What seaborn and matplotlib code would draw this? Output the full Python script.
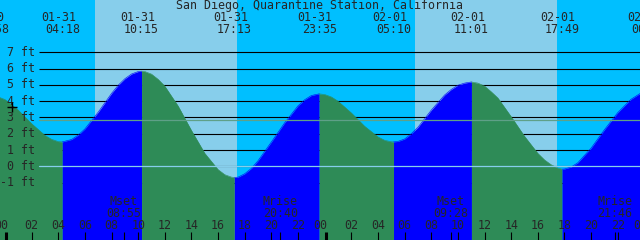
import numpy as np
import pandas as pd
import matplotlib
matplotlib.use("Agg")
import matplotlib.pyplot as plt
import seaborn as sns

# ---------------- data ----------------
title = "San Diego, Quarantine Station, California"

# tide heights (ft); hours counted from 01-31 00:00
hour_t = [-0.375, 0, 1, 2, 3, 3.5, 4, 5, 5.5, 6, 7, 8, 8.5, 9, 9.5, 10, 10.5, 11,
          11.5, 12, 13, 14, 15, 16, 16.5, 17, 17.5, 18, 18.5, 19, 20, 21, 22,
          22.5, 23, 24, 24.5, 25, 26, 27, 28, 28.5, 29, 29.5, 30, 30.5, 31, 32,
          33, 33.5, 34, 34.5, 35, 35.5, 36, 36.5, 37, 38, 39, 40, 40.5, 41,
          41.5, 42, 42.5, 43, 44, 45, 46, 47, 47.67]
hour_h = [4.22, 4.10, 3.45, 2.62, 1.90, 1.66, 1.52, 1.65, 1.92, 2.30, 3.33, 4.48,
          4.98, 5.38, 5.67, 5.82, 5.82, 5.66, 5.34, 4.92, 3.70, 2.20, 0.80,
          -0.20, -0.51, -0.66, -0.66, -0.45, -0.12, 0.35, 1.50, 2.68, 3.72,
          4.09, 4.35, 4.41, 4.26, 4.00, 3.28, 2.46, 1.81, 1.60, 1.51, 1.53,
          1.68, 2.00, 2.40, 3.45, 4.38, 4.72, 4.98, 5.11, 5.18, 5.11, 4.93,
          4.58, 4.20, 3.05, 1.85, 0.80, 0.40, 0.10, -0.10, -0.16, -0.04, 0.22,
          1.12, 2.25, 3.30, 4.12, 4.47]

# high / low tide events
ext_t = [-1.033, 4.30, 10.25, 17.217, 23.583, 29.167, 35.017, 41.817, 48.35]
ext_h = [4.35, 1.50, 5.84, -0.68, 4.45, 1.50, 5.18, -0.17, 4.60]
ext_date = ["01-30", "01-31", "01-31", "01-31", "01-31", "02-01", "02-01", "02-01", "02-02"]
ext_time = ["22:58", "04:18", "10:15", "17:13", "23:35", "05:10", "11:01", "17:49", "00:21"]

# daylight (sunrise, sunset) in hours
day_start = [6.76, 30.78]
day_end = [17.39, 41.42]

# moon events
moon_t = [8.92, 20.67, 33.47, 45.77]
moon_name = ["Mset", "Mrise", "Mset", "Mrise"]
moon_time = ["08:55", "20:40", "09:28", "21:46"]

levels = [-1, 0, 1, 2, 3, 4, 5, 6, 7]
mean_level = 2.82
hour_ticks = list(range(0, 49, 2))

# ---------------- style ----------------
NIGHT = "#00BFFF"
DAY = "#87CEEB"
RISE = "#0000FF"
FALL = "#2E8B57"
MEANC = "#5FA088"
ZEROC = "#87CEEB"

sns.set_style("white")
plt.rcParams["font.family"] = ["DejaVu Sans Mono", "DejaVu Sans"]
FS = 8.4

X0, X1 = -0.375, 47.67
Y0, Y1 = -4.52, 10.21
W, H = 640, 240


def px2t(px):
    return X0 + px / W * (X1 - X0)


def fy(py):  # pixel-from-top -> axes fraction
    return 1 - py / H


fig = plt.figure(figsize=(6.4, 2.4), dpi=100)
ax = fig.add_axes([0, 0, 1, 1])

# tide curve, split into rising / falling pieces
df = pd.DataFrame({"t": hour_t + ext_t, "h": hour_h + ext_h})
df = df.sort_values("t").drop_duplicates("t").reset_index(drop=True)
pieces = []
for i in range(len(ext_t) - 1):
    ta, tb = ext_t[i], ext_t[i + 1]
    seg = df[(df.t >= ta) & (df.t <= tb)].copy()
    seg["phase"] = "rise" if ext_h[i + 1] > ext_h[i] else "fall"
    seg["piece"] = i
    pieces.append(seg)
curve = pd.concat(pieces, ignore_index=True)

sns.lineplot(data=curve, x="t", y="h", units="piece", hue="phase",
             palette={"rise": RISE, "fall": FALL}, estimator=None, sort=True,
             lw=0.4, legend=False, ax=ax, zorder=4)
for i, seg in curve.groupby("piece"):
    col = RISE if seg.phase.iloc[0] == "rise" else FALL
    ax.fill_between(seg.t.to_numpy(), Y0, seg.h.to_numpy(), color=col, lw=0,
                    zorder=4)

ax.set_xlim(X0, X1)
ax.set_ylim(Y0, Y1)
ax.axis("off")

# background bands
ax.axvspan(X0, X1, color=NIGHT, lw=0, zorder=0)
for a, b in zip(day_start, day_end):
    ax.axvspan(a, b, color=DAY, lw=0, zorder=0.5)

# level lines (behind the water)
for lv in levels:
    ax.plot([px2t(39), X1], [lv, lv], color="black", lw=0.8, zorder=1,
            solid_capstyle="butt")
    ax.text(px2t(35), lv, f"{lv} ft", ha="right", va="center", fontsize=FS, zorder=6)

# zero and mean lines (over the water)
ax.plot([px2t(39), X1], [0, 0], color=ZEROC, lw=0.9, zorder=5)
ax.plot([px2t(39), X1], [mean_level, mean_level], color=MEANC, lw=0.9, zorder=5)
ax.plot([px2t(12)], [3.65], marker="+", ms=7, mew=1.0, color="black", zorder=6)

xt = ax.get_xaxis_transform()

# header
fig.text(0.5, fy(6), title, ha="center", va="center", fontsize=FS)
for t, d, s in zip(ext_t, ext_date, ext_time):
    ax.annotate(d, (t, fy(17.5)), xycoords=xt, xytext=(-4, 0),
                textcoords="offset pixels", ha="center", va="center", fontsize=FS,
                annotation_clip=False, zorder=6)
    ax.text(t, fy(29.5), s, transform=xt, ha="center", va="center", fontsize=FS,
            zorder=6)

# bottom hour ticks
for h in hour_ticks:
    lab = f"{h % 24:02d}"
    if h % 24 == 0:
        ax.annotate(lab, (h, fy(225.5)), xycoords=xt, xytext=(-4, 0),
                    textcoords="offset pixels", ha="center", va="center",
                    fontsize=FS, zorder=6)
        ax.vlines(h + px2t(1.5) - X0, 0, 8 / H, transform=xt, color="black",
                  lw=2.2, zorder=6)
    else:
        ax.text(h, fy(225.5), lab, transform=xt, ha="center", va="center",
                fontsize=FS, zorder=6)
        ax.vlines(h, 0, 8 / H, transform=xt, color="black", lw=0.8, zorder=6)

# moon events
for t, n, s in zip(moon_t, moon_name, moon_time):
    ax.text(t, fy(201.5), n, transform=xt, ha="center", va="center", fontsize=FS, zorder=6)
    ax.text(t, fy(213.5), s, transform=xt, ha="center", va="center", fontsize=FS, zorder=6)
    ax.vlines(t, 0, 8 / H, transform=xt, color="black", lw=0.8, zorder=6)

fig.savefig("out.png", dpi=100)
